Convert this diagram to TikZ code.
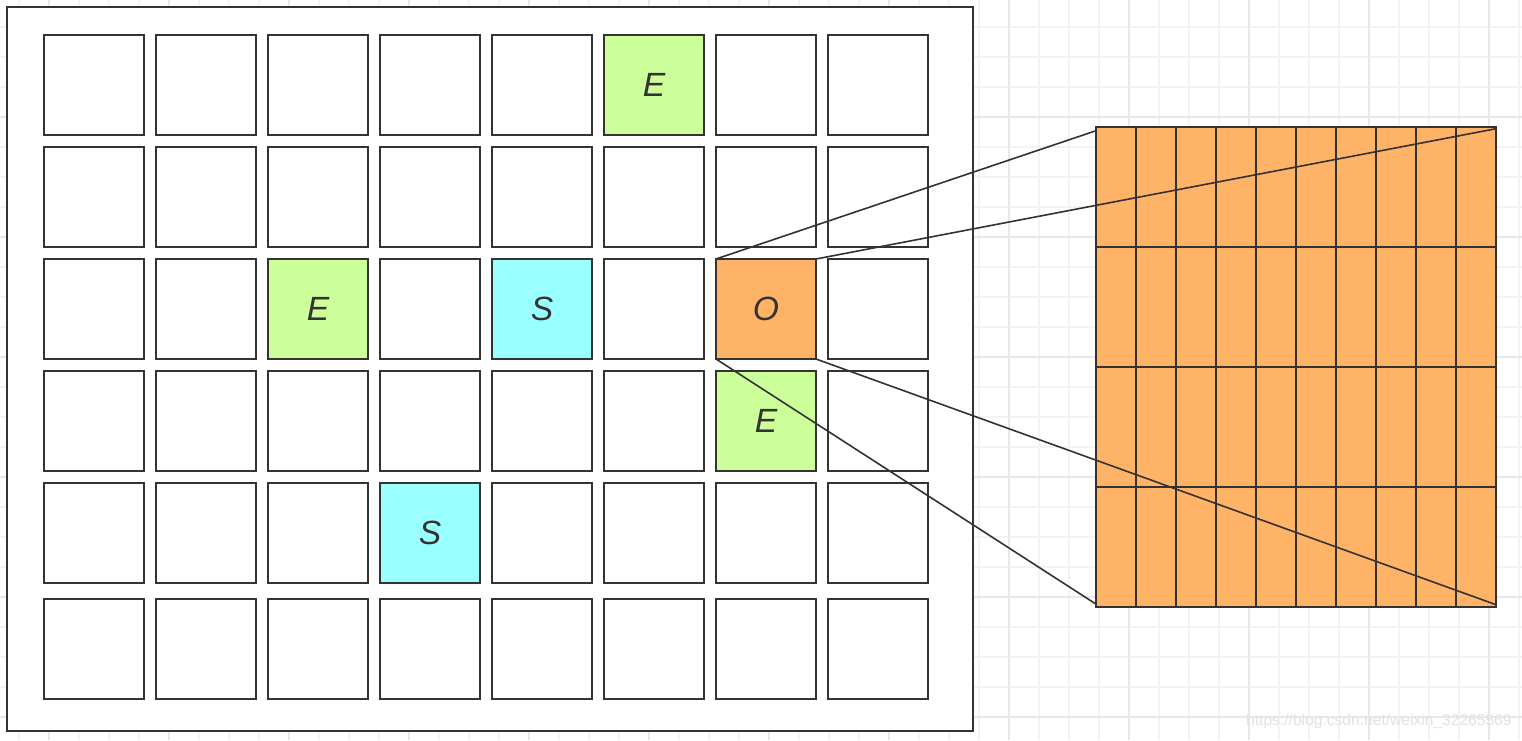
\documentclass[tikz,border=0pt]{standalone}
\usepackage{fontspec}
\setmainfont{Liberation Sans}
\usetikzlibrary{calc}
\definecolor{ln}{HTML}{333333}
\definecolor{gfill}{HTML}{CCFF99}
\definecolor{cfill}{HTML}{99FFFF}
\definecolor{ofill}{HTML}{FFB366}
\definecolor{gridminor}{HTML}{F3F3F3}
\definecolor{gridmajor}{HTML}{E8E8E8}
\definecolor{wmark}{HTML}{E2E2E2}
\begin{document}
\begin{tikzpicture}[x=0.5pt,y=-0.5pt,
  cell/.style={draw=ln, line width=1pt, minimum width=50pt, minimum height=50pt,
    inner sep=0pt, outer sep=0pt, text=ln,
    font=\fontsize{16.8}{20}\selectfont\itshape},
  kw/.style={fill=white, node contents={}},
  ke/.style={fill=gfill, node contents={E}},
  ks/.style={fill=cfill, node contents={S}},
  ko/.style={fill=ofill, node contents={O}},
  minorline/.style={draw=gridminor, line width=1pt},
  majorline/.style={draw=gridmajor, line width=1pt},
  conn/.style={draw=ln, line width=0.8pt},
  biggrid/.style={draw=ln, line width=1pt},
]
\useasboundingbox (0,0) rectangle (1522,740);
\fill[white] (0,0) rectangle (1522,740);
% background grid
\foreach \i in {0,...,50} \draw[minorline] ({19+30*\i},0) -- ({19+30*\i},740);
\foreach \j in {0,...,24} \draw[minorline] (0,{26.7+30*\j}) -- (1522,{26.7+30*\j});
\foreach \i in {0,...,12} \draw[majorline] ({49+120*\i},0) -- ({49+120*\i},740);
\foreach \j in {0,...,5} \draw[majorline] (0,{116.7+120*\j}) -- (1522,{116.7+120*\j});
% outer frame
\draw[ln, fill=white, line width=1pt] (7,7) rectangle (973,730.5);
% cells
\foreach \c/\k in {0/w,1/w,2/w,3/w,4/w,5/e,6/w,7/w}
  \node (c-0-\c) at ({94+112*\c},85) [cell,k\k];
\foreach \c/\k in {0/w,1/w,2/w,3/w,4/w,5/w,6/w,7/w}
  \node (c-1-\c) at ({94+112*\c},197) [cell,k\k];
\foreach \c/\k in {0/w,1/w,2/e,3/w,4/s,5/w,6/o,7/w}
  \node (c-2-\c) at ({94+112*\c},309) [cell,k\k];
\foreach \c/\k in {0/w,1/w,2/w,3/w,4/w,5/w,6/e,7/w}
  \node (c-3-\c) at ({94+112*\c},421) [cell,k\k];
\foreach \c/\k in {0/w,1/w,2/w,3/s,4/w,5/w,6/w,7/w}
  \node (c-4-\c) at ({94+112*\c},533) [cell,k\k];
\foreach \c/\k in {0/w,1/w,2/w,3/w,4/w,5/w,6/w,7/w}
  \node (c-5-\c) at ({94+112*\c},649) [cell,k\k];
% enlarged grid
\node[biggrid, fill=ofill, minimum width=200pt, minimum height=240pt,
  inner sep=0pt, outer sep=0pt] (big) at (1296,366.7) {};
\foreach \i in {1,...,9}
  \draw[biggrid] ($(big.north west)!\i/10!(big.north east)$) -- ($(big.south west)!\i/10!(big.south east)$);
\foreach \j in {1,2,3}
  \draw[biggrid] ($(big.north west)!\j/4!(big.south west)$) -- ($(big.north east)!\j/4!(big.south east)$);
% connectors
\draw[conn] (c-2-6.north west) -- ([yshift=-2pt]big.north west);
\draw[conn] (c-2-6.north east) -- ([yshift=-1pt]big.north east);
\draw[conn] (c-2-6.south west) -- ([yshift=1.3pt]big.south west);
\draw[conn] (c-2-6.south east) -- ([yshift=1pt]big.south east);
% watermark
\node[anchor=east, inner sep=0pt, text=wmark, font=\fontsize{7.8}{9}\selectfont] (wm) at (1512,721) {https://blog.csdn.net/weixin\_32265569};
\end{tikzpicture}
\end{document}
